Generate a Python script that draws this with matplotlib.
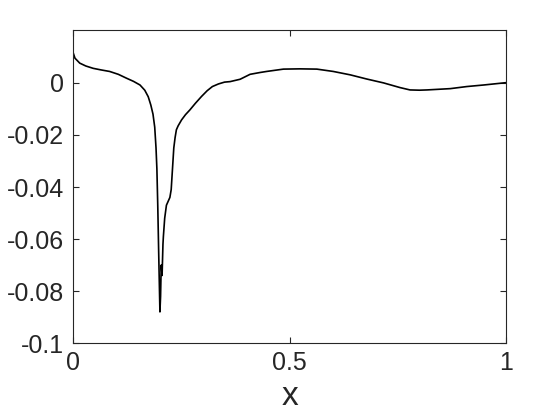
import matplotlib
matplotlib.use("Agg")
import matplotlib.pyplot as plt

# curve
x = [0.000, 0.005, 0.016, 0.030, 0.047, 0.065, 0.085, 0.105, 0.124, 0.140, 0.155,
     0.166, 0.174, 0.180, 0.185, 0.189, 0.192, 0.194, 0.196, 0.198, 0.200, 0.201,
     0.2025, 0.204, 0.206, 0.208, 0.209, 0.212, 0.216, 0.220, 0.224, 0.227, 0.230,
     0.233, 0.236, 0.239, 0.243, 0.251, 0.260, 0.270, 0.283, 0.297, 0.310, 0.322,
     0.336, 0.350, 0.363, 0.386, 0.409, 0.432, 0.447, 0.486, 0.524, 0.563, 0.601,
     0.640, 0.678, 0.717, 0.755, 0.778, 0.800, 0.817, 0.871, 0.909, 0.948, 1.000]
y = [0.0120, 0.0095, 0.0076, 0.0065, 0.0056, 0.0050, 0.0044, 0.0033, 0.0018, 0.0006, -0.0008,
     -0.0028, -0.0053, -0.0085, -0.0120, -0.0170, -0.0250, -0.0330, -0.0470, -0.0640, -0.0800, -0.0880,
     -0.0820, -0.0700, -0.0740, -0.0620, -0.0590, -0.0520, -0.0470, -0.0455, -0.0440, -0.0410, -0.0330,
     -0.0250, -0.0210, -0.0180, -0.0165, -0.0142, -0.0122, -0.0104, -0.0078, -0.0052, -0.0030, -0.0014,
     -0.0004, 0.0003, 0.0005, 0.0014, 0.0033, 0.0040, 0.0044, 0.0053, 0.0054, 0.0053, 0.0044,
     0.0031, 0.0015, 0.0000, -0.0018, -0.0027, -0.0028, -0.0027, -0.0022, -0.0014, -0.0008, 0.0001]

xticks = [0, 0.5, 1]
xticklabels = ['0', '0.5', '1']
yticks = [-0.1, -0.08, -0.06, -0.04, -0.02, 0]
yticklabels = ['-0.1', '-0.08', '-0.06', '-0.04', '-0.02', '0']

plt.rcParams['font.family'] = ['Liberation Sans', 'DejaVu Sans']

fig = plt.figure(figsize=(5.6, 4.2), dpi=100)
ax = fig.add_axes([0.130, 0.183, 0.774, 0.746])
ax.plot(x, y, color='black', linewidth=1.2)

ax.set_xlim(0, 1)
ax.set_ylim(-0.1, 0.0204)
ax.set_xticks(xticks)
ax.set_xticklabels(xticklabels)
ax.set_yticks(yticks)
ax.set_yticklabels(yticklabels)
ax.tick_params(direction='in', top=True, right=True, length=4, width=0.8,
               labelsize=18, colors='#262626', pad=6)
for s in ax.spines.values():
    s.set_color('#262626')
    s.set_linewidth(0.8)
ax.set_xlabel('x', fontsize=24, color='#262626', labelpad=4)

fig.savefig('out.png', dpi=100)
